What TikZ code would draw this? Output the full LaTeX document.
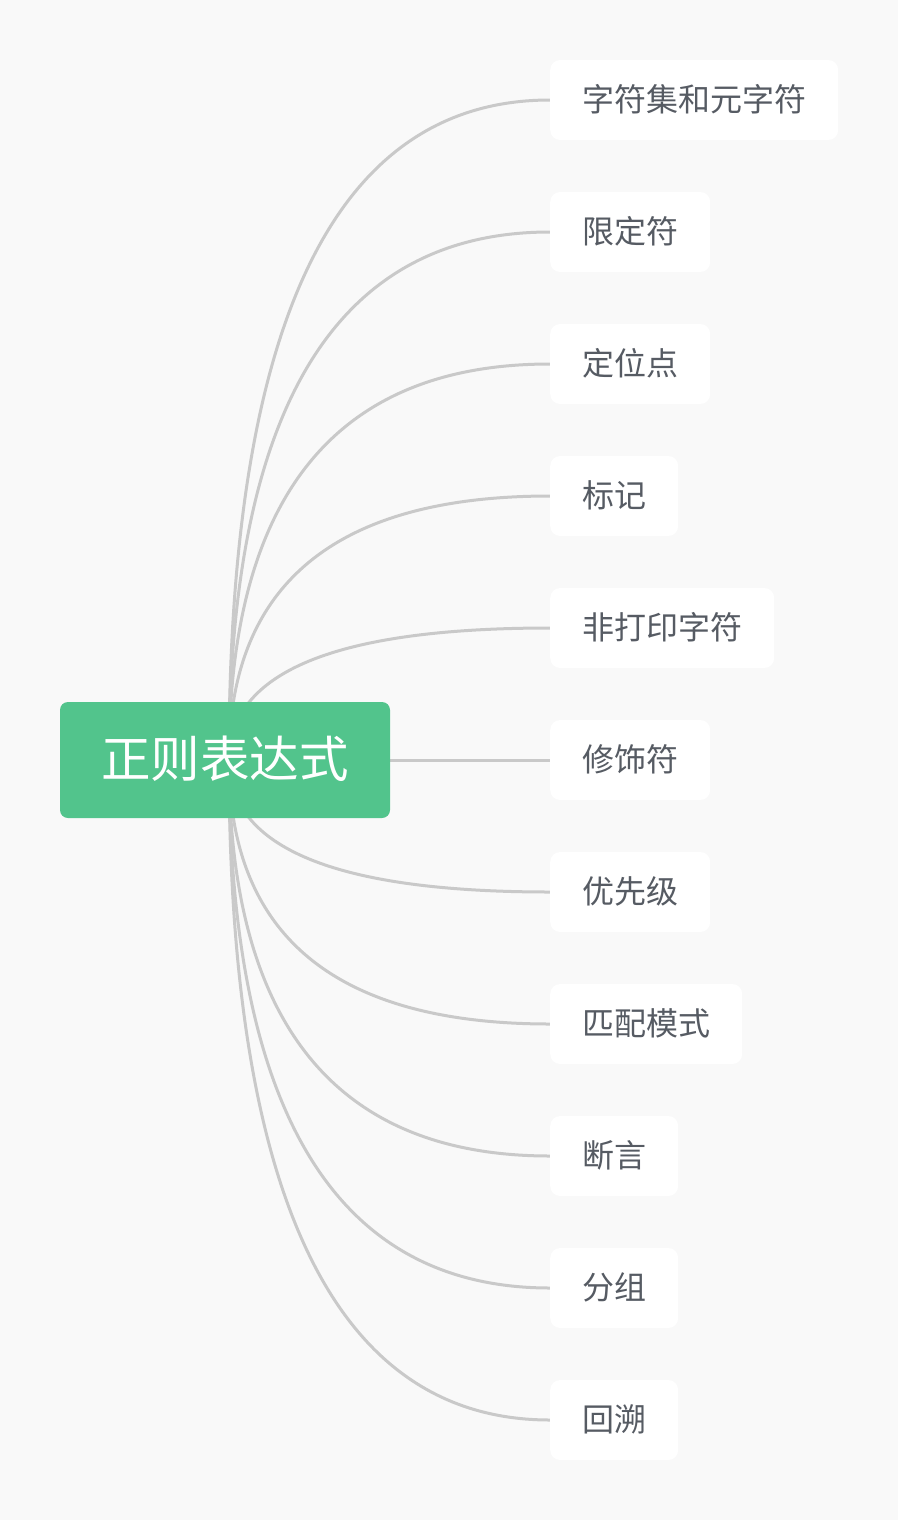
\documentclass[tikz,border=0pt]{standalone}
\usepackage{fontspec}
\newfontfamily\cjk{Noto Sans CJK SC}
\usetikzlibrary{calc, backgrounds}
\definecolor{rootgreen}{HTML}{52C48C}
\definecolor{canvasgray}{HTML}{F9F9F9}
\definecolor{linkgray}{HTML}{C9C9C9}
\definecolor{leaftext}{HTML}{565B63}

\begin{document}
\begin{tikzpicture}[
  x=1pt, y=-1pt,
  root/.style={rectangle, rounded corners=8pt, fill=rootgreen, text=white, minimum width=330pt, minimum height=116pt, inner sep=0pt, font=\cjk\fontsize{49.5}{49.5}\selectfont, text height=34pt, text depth=0pt},
  leaf/.style={rectangle, rounded corners=10pt, fill=white, text=leaftext, anchor=west, minimum height=80pt, inner xsep=32pt, inner ysep=0pt, font=\cjk\fontsize{32}{32}\selectfont, text height=22pt, text depth=0pt},
  link/.style={draw=linkgray, line width=3pt},
  branch/.style={link, to path={.. controls ($(\tikztostart)!0.667!(\tikztostart |- \tikztotarget)$) and ($(\tikztotarget)!0.667!(\tikztostart |- \tikztotarget)$) .. (\tikztotarget)}}
]
  \useasboundingbox (0,0) rectangle (898,1520);

  \node[root] (regex) at (225,760) {正则表达式};
  \coordinate (hub) at ([xshift=4pt]regex.center);

  \node[leaf] (charset) at (550,100) {字符集和元字符};
  \node[leaf] (quant) at (550,232) {限定符};
  \node[leaf] (anchor) at (550,364) {定位点};
  \node[leaf] (mark) at (550,496) {标记};
  \node[leaf] (nonprint) at (550,628) {非打印字符};
  \node[leaf] (modifier) at (550,760) {修饰符};
  \node[leaf] (priority) at (550,892) {优先级};
  \node[leaf] (mode) at (550,1024) {匹配模式};
  \node[leaf] (assert) at (550,1156) {断言};
  \node[leaf] (group) at (550,1288) {分组};
  \node[leaf] (backref) at (550,1420) {回溯};

  \begin{scope}[on background layer]
    \fill[canvasgray] (0,0) rectangle (898,1520);
    \draw[branch] (hub) to (charset.west);
    \draw[branch] (hub) to (quant.west);
    \draw[branch] (hub) to (anchor.west);
    \draw[branch] (hub) to (mark.west);
    \draw[branch] (hub) to (nonprint.west);
    \draw[link] (regex.east) -- (modifier.west);
    \draw[branch] (hub) to (priority.west);
    \draw[branch] (hub) to (mode.west);
    \draw[branch] (hub) to (assert.west);
    \draw[branch] (hub) to (group.west);
    \draw[branch] (hub) to (backref.west);
  \end{scope}
\end{tikzpicture}
\end{document}
